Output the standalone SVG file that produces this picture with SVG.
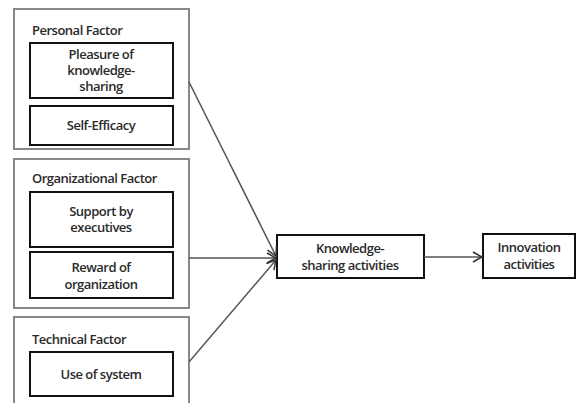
<svg xmlns="http://www.w3.org/2000/svg" width="577" height="403" viewBox="0 0 577 403">
<style>
.outer{fill:#fff;stroke:#888;stroke-width:2}
.inner{fill:#fff;stroke:#111;stroke-width:2}
.t{font-family:"Open Sans","Noto Sans",sans-serif;font-size:13px;font-weight:600;fill:#2a2a2a;letter-spacing:-0.5px}
.c{text-anchor:middle}
.conn{stroke:#555;stroke-width:1.5;fill:none}
</style>
<defs>
<marker id="arr" markerWidth="12" markerHeight="12" refX="10" refY="6" orient="auto" markerUnits="userSpaceOnUse">
<path d="M1,1 L10,6 L1,11" fill="none" stroke="#333" stroke-width="1.5"/>
</marker>
</defs>
<rect width="577" height="403" fill="#fff"/>
<g id="personal">
<rect class="outer" x="14" y="9" width="175" height="140"/>
<text class="t" x="32" y="35">Personal Factor</text>
<rect class="inner" x="30" y="43" width="143" height="55"/>
<text class="t c" x="101" y="59">Pleasure of</text>
<text class="t c" x="101" y="75">knowledge-</text>
<text class="t c" x="101" y="91">sharing</text>
<rect class="inner" x="30" y="106" width="143" height="39"/>
<text class="t c" x="101" y="130">Self-Efficacy</text>
</g>
<g id="organizational">
<rect class="outer" x="14" y="159" width="175" height="149"/>
<text class="t" x="32" y="183">Organizational Factor</text>
<rect class="inner" x="30" y="192" width="143" height="55"/>
<text class="t c" x="101" y="216">Support by</text>
<text class="t c" x="101" y="232">executives</text>
<rect class="inner" x="30" y="252" width="143" height="46"/>
<text class="t c" x="101" y="272">Reward of</text>
<text class="t c" x="101" y="289">organization</text>
</g>
<g id="technical">
<rect class="outer" x="14" y="317" width="175" height="100"/>
<text class="t" x="32" y="344">Technical Factor</text>
<rect class="inner" x="30" y="352" width="143" height="44"/>
<text class="t c" x="101" y="379">Use of system</text>
</g>
<g id="knowledge">
<rect class="inner" x="277" y="235" width="147" height="43"/>
<text class="t c" x="350" y="253">Knowledge-</text>
<text class="t c" x="350" y="270">sharing activities</text>
</g>
<g id="innovation">
<rect class="inner" x="483" y="234" width="92" height="44"/>
<text class="t c" x="529" y="252">Innovation</text>
<text class="t c" x="529" y="269">activities</text>
</g>
<g id="connectors">
<line class="conn" x1="189" y1="82" x2="276" y2="256" marker-end="url(#arr)"/>
<line class="conn" x1="189" y1="258" x2="276" y2="258" marker-end="url(#arr)"/>
<line class="conn" x1="189" y1="362" x2="276" y2="260" marker-end="url(#arr)"/>
<line class="conn" x1="424" y1="257" x2="482" y2="257" marker-end="url(#arr)"/>
</g>
</svg>
